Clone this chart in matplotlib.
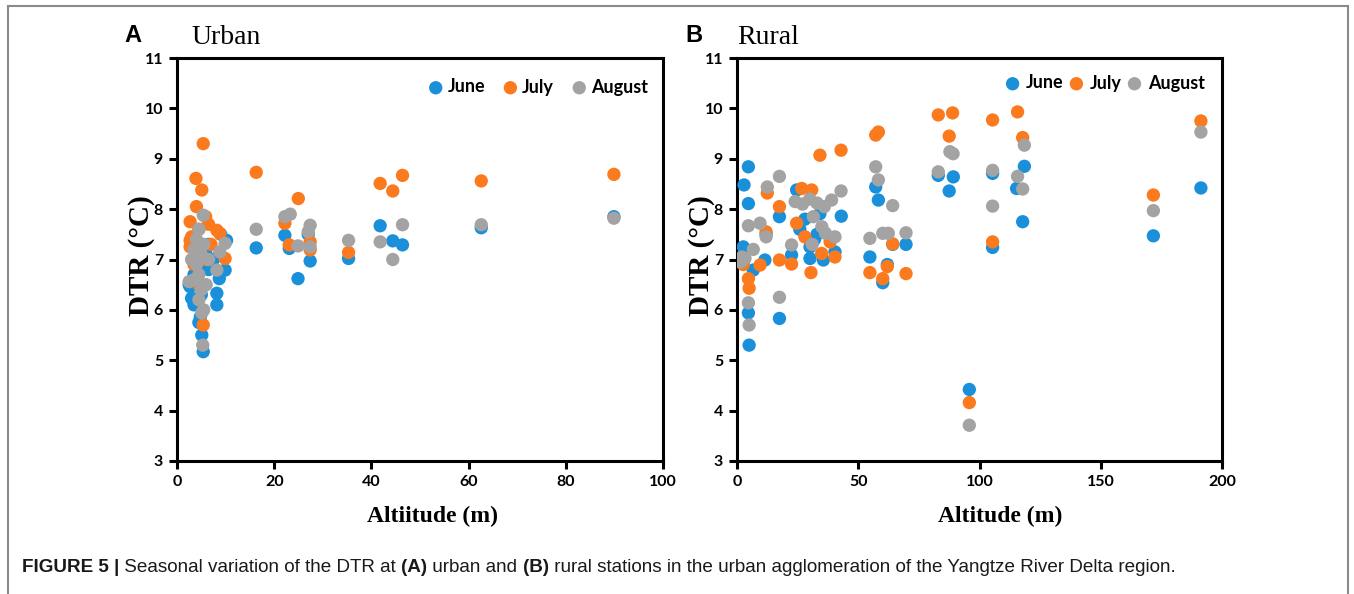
import matplotlib
matplotlib.use("Agg")
import matplotlib.pyplot as plt
from matplotlib.lines import Line2D

# ---------------- data ----------------
months = ["June", "July", "August"]
colors = ["#1a90db", "#fb7a1e", "#a3a3a3"]

urban_june_alt = [2.7, 3.0, 3.5, 4.0, 4.5, 5.1, 5.4, 4.8, 5.0, 6.0, 6.5, 8.2, 8.2, 8.7, 9.9, 10.2, 9.0,
                  2.5, 3.5, 4.5, 6.5, 7.5, 16.3, 22.2, 23.1, 24.9, 27.0, 27.4, 35.3, 41.8, 44.4, 46.4, 62.6, 89.9]
urban_june_dtr = [6.46, 6.23, 6.7, 7.2, 6.9, 5.5, 5.17, 5.86, 6.3, 7.1, 7.3, 6.33, 6.10, 6.62, 6.79, 7.38, 7.5,
                  6.5, 6.1, 5.75, 6.8, 7.0, 7.23, 7.48, 7.22, 6.62, 7.5, 6.97, 7.02, 7.67, 7.37, 7.29, 7.63, 7.85]

urban_july_alt = [5.4, 3.9, 5.1, 4.0, 2.7, 5.9, 3.0, 2.7, 2.7, 4.5, 6.5, 8.2, 8.8, 9.9, 5.9, 5.4, 4.5, 3.5, 7.0,
                  16.3, 22.2, 23.1, 24.96, 27.4, 27.4, 35.3, 41.8, 44.4, 46.4, 62.6, 89.9]
urban_july_dtr = [9.30, 8.61, 8.38, 8.05, 7.75, 7.85, 7.45, 7.38, 7.25, 7.6, 7.7, 7.58, 7.52, 7.02, 7.0, 5.70, 6.5, 6.9, 7.3,
                  8.73, 7.72, 7.29, 8.21, 7.35, 7.19, 7.14, 8.51, 8.36, 8.67, 8.56, 8.69]

urban_aug_alt = [5.4, 4.5, 4.0, 3.5, 3.0, 4.0, 5.0, 5.5, 4.5, 3.5, 2.5, 5.0, 4.5, 5.5, 5.1, 5.3, 6.0, 6.5, 8.8, 8.2, 9.9,
                 16.3, 22.2, 23.3, 24.9, 27.0, 27.4, 27.4, 35.3, 41.8, 44.4, 46.4, 62.6, 89.9]
urban_aug_dtr = [7.88, 7.6, 7.4, 7.2, 7.0, 6.9, 7.1, 7.3, 6.7, 6.6, 6.56, 6.4, 6.2, 6.0, 5.94, 5.3, 6.5, 7.0, 7.15, 6.79, 7.32,
                 7.6, 7.85, 7.9, 7.27, 7.55, 7.68, 7.25, 7.38, 7.35, 7.0, 7.69, 7.69, 7.82]

rural_june_alt = [4.7, 2.9, 4.7, 12, 2.6, 6.7, 11.5, 4.7, 5.0, 17.5, 17.5, 22.5, 24.6, 25.9, 30.1, 30.1, 34.2, 35.6, 33,
                  28, 32, 43.0, 40.4, 58.3, 57.2, 54.8, 60.1, 62, 64.2, 69.7, 83, 89.2, 87.5, 95.8, 105.4, 105.4,
                  118.5, 115.3, 117.8, 171.7, 191.3]
rural_june_dtr = [8.84, 8.48, 8.11, 7.5, 7.25, 6.79, 6.99, 5.94, 5.30, 7.85, 5.83, 7.09, 8.38, 7.6, 7.25, 7.02, 7.91, 6.99, 7.5,
                  7.8, 7.4, 7.86, 7.15, 8.18, 8.44, 7.05, 6.54, 6.9, 7.3, 7.3, 8.67, 8.64, 8.36, 4.42, 8.71, 7.24,
                  8.85, 8.41, 7.75, 7.47, 8.42]

rural_july_alt = [12, 2.6, 9.5, 4.7, 5.0, 12.5, 17.5, 17.5, 22.5, 26.7, 30.8, 24.6, 28, 30.5, 34.9, 34.2, 42.9, 40.4, 38.4,
                  57.2, 58.3, 54.8, 64.2, 62, 60.1, 69.7, 83, 88.9, 87.5, 95.8, 105.4, 105.4, 115.7, 117.8, 171.7, 191.3]
rural_july_dtr = [7.55, 6.9, 6.89, 6.62, 6.43, 8.32, 8.05, 6.99, 6.91, 8.41, 8.38, 7.72, 7.45, 6.74, 7.12, 9.07, 9.17, 7.05, 7.35,
                  9.47, 9.53, 6.74, 7.31, 6.86, 6.62, 6.72, 9.87, 9.91, 9.45, 4.16, 9.77, 7.35, 9.93, 9.42, 8.28, 9.75]

rural_aug_alt = [4.7, 9.5, 12, 3.3, 6.7, 2.0, 1.5, 4.7, 5.0, 12.5, 17.5, 17.5, 22.5, 24, 27, 30, 33, 36, 31, 31.5, 35, 36.5,
                 42.9, 39, 40.4, 57.2, 58.3, 64.2, 54.8, 60.1, 62.4, 69.7, 83, 87.8, 89.1, 95.8, 105.4, 105.4,
                 118.5, 115.7, 117.8, 171.7, 191.3]
rural_aug_dtr = [7.67, 7.72, 7.45, 7.02, 7.2, 7.05, 6.95, 6.14, 5.70, 8.44, 8.65, 6.25, 7.29, 8.15, 8.1, 8.2, 8.12, 8.05, 7.3, 7.85, 7.65, 7.52,
                 8.36, 8.18, 7.45, 8.84, 8.58, 8.07, 7.42, 7.52, 7.52, 7.53, 8.74, 9.14, 9.10, 3.71, 8.77, 8.06,
                 9.27, 8.65, 8.40, 7.97, 9.53]

urban_xticks = [0, 20, 40, 60, 80, 100]
rural_xticks = [0, 50, 100, 150, 200]
yticks = [3, 4, 5, 6, 7, 8, 9, 10, 11]

# ---------------- figure ----------------
W, H = 1354, 594
fig = plt.figure(figsize=(W / 100, H / 100), dpi=100)
fig.patch.set_facecolor("white")

def px_axes(l, r, t, b):
    return fig.add_axes([l / W, 1 - b / H, (r - l) / W, (b - t) / H])

axA = px_axes(177, 663, 58, 461)
axB = px_axes(737, 1222, 58, 461)

tickfont = dict(family="Lato", weight="bold", size=11.5)
labfont = dict(family="Liberation Serif", weight="bold", size=17)

panels = [
    (axA, [(urban_june_alt, urban_june_dtr), (urban_july_alt, urban_july_dtr), (urban_aug_alt, urban_aug_dtr)],
     (0, 100), urban_xticks),
    (axB, [(rural_june_alt, rural_june_dtr), (rural_july_alt, rural_july_dtr), (rural_aug_alt, rural_aug_dtr)],
     (0, 200), rural_xticks),
]

for ax, series, xlim, xt in panels:
    for (xs, ys), c, m, z in zip(series, colors, months, [3, 4, 5]):
        ax.scatter(xs, ys, s=92, color=c, edgecolors="none", label=m, zorder=z)
    ax.set_xlim(*xlim)
    ax.set_ylim(3, 11)
    ax.set_xticks(xt)
    ax.set_yticks(yticks)
    ax.set_xticklabels([str(v) for v in xt], fontdict=tickfont)
    ax.set_yticklabels([str(v) for v in yticks], fontdict=tickfont)
    for sp in ax.spines.values():
        sp.set_linewidth(2.2)
        sp.set_color("black")
    ax.tick_params(direction="out", length=6, width=2.2, pad=4, top=False, right=False)
    ax.set_ylabel("DTR (°C)", fontdict=dict(family="Liberation Serif", weight="bold", size=21))

axA.set_xlabel("Altiitude (m)", fontdict=labfont)
axB.set_xlabel("Altitude (m)", fontdict=labfont)
axA.xaxis.set_label_coords((432 - 177) / 486, -0.112)
axB.xaxis.set_label_coords((1000 - 737) / 485, -0.112)
# y labels: centre x ~140 (A) / ~700 (B)
axA.yaxis.set_label_coords(-(177 - 155) / 486, 0.51)
axB.yaxis.set_label_coords(-(737 - 715) / 485, 0.51)

legfont = dict(family="Lato", weight="bold", size=13)
axA.legend(loc="center right", bbox_to_anchor=((648 - 177) / 486, 1 - (87 - 58) / 403), ncol=3,
           frameon=False, prop=legfont, handlelength=0.8, handletextpad=0.25, columnspacing=1.0,
           borderpad=0, borderaxespad=0, scatterpoints=1)
axB.legend(loc="center right", bbox_to_anchor=((1205 - 737) / 485, 1 - (83 - 58) / 403), ncol=3,
           frameon=False, prop=legfont, handlelength=0.8, handletextpad=0.35, columnspacing=0.3,
           borderpad=0, borderaxespad=0, scatterpoints=1)

# panel letters and titles
fig.text(133 / W, 1 - 36 / H, "A", family="Liberation Sans", weight="bold", size=17, ha="center", va="center")
fig.text(191 / W, 1 - 37 / H, "Urban", family="Liberation Serif", size=20, ha="left", va="center")
fig.text(694 / W, 1 - 36 / H, "B", family="Liberation Sans", weight="bold", size=17, ha="center", va="center")
fig.text(737 / W, 1 - 37 / H, "Rural", family="Liberation Serif", size=20, ha="left", va="center")

# outer frame (open at bottom)
frame_c = "#8a8a8a"
fig.add_artist(Line2D([8 / W, 8 / W], [0, 1 - 6 / H], transform=fig.transFigure, color=frame_c, lw=1.5))
fig.add_artist(Line2D([8 / W, 1348 / W], [1 - 6 / H, 1 - 6 / H], transform=fig.transFigure, color=frame_c, lw=1.5))
fig.add_artist(Line2D([1348 / W, 1348 / W], [0, 1 - 6 / H], transform=fig.transFigure, color=frame_c, lw=1.5))

# caption built from pieces
pieces = [
    ("FIGURE 5 |", "bold"),
    (" Seasonal variation of the DTR at ", "normal"),
    ("(A)", "bold"),
    (" urban and ", "normal"),
    ("(B)", "bold"),
    (" rural stations in the urban agglomeration of the Yangtze River Delta region.", "normal"),
]
fig.canvas.draw()
renderer = fig.canvas.get_renderer()
x = 22 / W
ycap = 1 - 567 / H
for txt, wt in pieces:
    t = fig.text(x, ycap, txt, family="Liberation Sans", weight=wt, size=13.6, ha="left", va="center", color="#1a1a1a")
    bb = t.get_window_extent(renderer=renderer)
    x = bb.x1 / W

fig.savefig("out.png", dpi=100, facecolor="white")
